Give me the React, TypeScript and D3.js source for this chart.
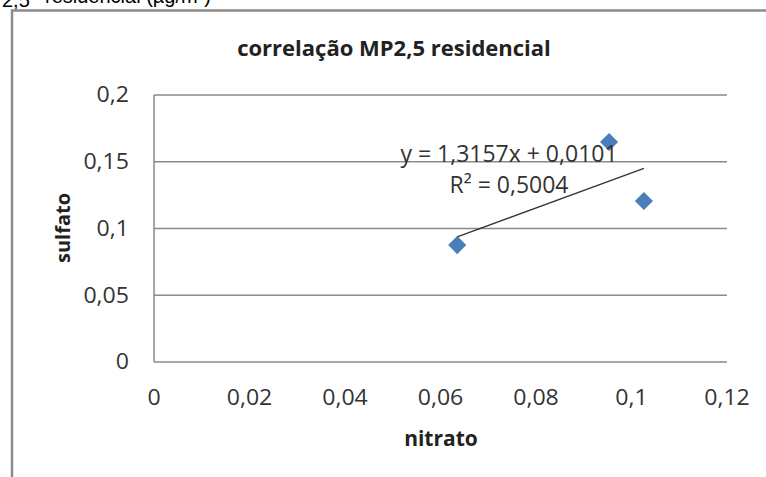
import React from "react";
import * as d3 from "d3";

const nitrato = [0.0635, 0.0953, 0.1026];
const sulfato = [0.0876, 0.1648, 0.1206];
const xTicks = [0, 0.02, 0.04, 0.06, 0.08, 0.1, 0.12];
const yTicks = [0, 0.05, 0.1, 0.15, 0.2];
const slope = 1.3157;
const intercept = 0.0101;
const equationText = "y = 1,3157x + 0,0101";
const r2Text = "0,5004";
const title = "correlação MP2,5 residencial";
const xTitle = "nitrato";
const yTitle = "sulfato";

const W = 766;
const H = 477;
const FONT = "'Open Sans', 'Noto Sans', sans-serif";

const fmt = (v: number) => String(+v.toFixed(3)).replace(".", ",");

export default function App() {
  const x = d3.scaleLinear().domain([0, 0.12]).range([154, 727]);
  const y = d3.scaleLinear().domain([0, 0.2]).range([362, 95]);
  const xMin = d3.min(nitrato)!;
  const xMax = d3.max(nitrato)!;
  const line = d3.line<number>().x((d) => x(d)).y((d) => y(slope * d + intercept));
  const diamond = d3.symbol().type(d3.symbolDiamond2).size(210)();

  return (
    <svg
      width={W}
      height={H}
      style={{ position: "absolute", left: 0, top: 0, background: "#fff" }}
      fontFamily={FONT}
    >
      <text fontSize={20} fill="#000" fontFamily="'Liberation Sans', Arial, sans-serif">
        <tspan x={2} y={6.5} fontSize={20}>2,5</tspan>
        <tspan x={45} y={2.5}>residencial (µg/m³)</tspan>
      </text>
      <rect x={12} y={10.5} width={800} height={500} fill="#fff" stroke="#8c8c8c" strokeWidth={2.5} />
      {yTicks.map((t) => (
        <line key={t} x1={x(0)} x2={x(0.12)} y1={y(t)} y2={y(t)} stroke="#8a8a8a" strokeWidth={1.5} />
      ))}
      <line x1={x(0)} x2={x(0)} y1={y(0.2)} y2={y(0)} stroke="#8a8a8a" strokeWidth={1.5} />
      {yTicks.map((t) => (
        <text
          key={t}
          transform={`translate(129,${y(t)}) scale(1.1,1)`}
          dy="0.35em"
          textAnchor="end"
          fontSize={21}
          fill="#333"
        >
          {fmt(t)}
        </text>
      ))}
      {xTicks.map((t) => (
        <text
          key={t}
          transform={`translate(${x(t)},398) scale(1.1,1)`}
          dy="0.35em"
          textAnchor="middle"
          fontSize={21}
          fill="#333"
        >
          {fmt(t)}
        </text>
      ))}
      <text x={394} y={48} dy="0.35em" textAnchor="middle" fontSize={22} fontWeight="bold" fill="#222">
        {title}
      </text>
      <text x={441} y={439} dy="0.35em" textAnchor="middle" fontSize={21} fontWeight="bold" fill="#222">
        {xTitle}
      </text>
      <text
        transform={`translate(63,228) rotate(-90)`}
        dy="0.35em"
        textAnchor="middle"
        fontSize={20}
        fontWeight="bold"
        fill="#222"
      >
        {yTitle}
      </text>
      {nitrato.map((d, i) => (
        <path key={i} d={diamond!} transform={`translate(${x(d)},${y(sulfato[i])})`} fill="#4a7ebb" />
      ))}
      <path d={line([xMin, xMax])!} stroke="#333" strokeWidth={1.3} fill="none" />
      <text x={509} y={154} dy="0.35em" textAnchor="middle" fontSize={23} fill="#333">
        {equationText}
      </text>
      <text x={509} y={185} dy="0.35em" textAnchor="middle" fontSize={23} fill="#333">
        R² = {r2Text}
      </text>
    </svg>
  );
}
